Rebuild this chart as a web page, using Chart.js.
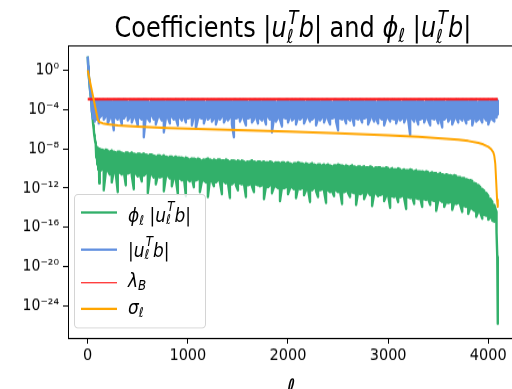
<!DOCTYPE html>
<html>
<head>
<meta charset="utf-8">
<script src="https://cdn.jsdelivr.net/npm/chart.js@4.4.1/dist/chart.umd.min.js"></script>
<style>
body { margin:0; width:512px; height:389px; overflow:hidden; background:#fff; font-family:'DejaVu Sans', sans-serif; }
#wrap { position:absolute; left:0; top:0; width:512px; height:335px; transform:scaleY(1.1612); transform-origin:0 0; }
#grafik { position:absolute; left:0; top:0; }
#title { position:absolute; left:93px; width:400px; top:10px; text-align:center; font-size:24px; line-height:28px; white-space:nowrap; color:#000; }
i { font-style:italic; }
.ss { position:relative; display:inline-block; width:0.5em; height:0; }
.ss .sup { position:absolute; left:0.1em; top:-1.5em; font-size:0.7em; line-height:1; }
.ss .sub { position:absolute; left:0; top:-0.55em; font-size:0.7em; line-height:1; }
.lo { font-size:0.7em; vertical-align:-0.25em; line-height:0; }
#lbox { position:absolute; left:74px; top:166.5px; width:132px; height:116px; box-sizing:border-box; border:1px solid #d4d4d4; border-radius:4px; background:rgba(255,255,255,0.8); }
.sw { position:absolute; left:80.7px; width:36.6px; height:1.8px; }
.lab { position:absolute; left:128px; font-size:17px; line-height:20px; white-space:nowrap; color:#000; }
#xl { position:absolute; left:276px; width:30px; top:321.5px; text-align:center; font-size:23px; line-height:27px; font-style:italic; }
</style>
</head>
<body>
<div id="wrap">
  <canvas id="grafik" width="512" height="335"></canvas>
  <div id="title">Coefficients |<i>u</i><span class="ss"><i class="sup">T</i><i class="sub">ℓ</i></span><i>b</i>| and <i>ϕ</i><i class="lo">ℓ</i> |<i>u</i><span class="ss"><i class="sup">T</i><i class="sub">ℓ</i></span><i>b</i>|</div>
  <div id="lbox"></div>
  <div class="sw" id="sw0" style="top:182.3px"></div>
  <div class="sw" id="sw1" style="top:213.9px"></div>
  <div class="sw" id="sw2" style="top:242.5px"></div>
  <div class="sw" id="sw3" style="top:265.2px"></div>
  <div class="lab" style="top:175px"><i>ϕ</i><i class="lo">ℓ</i> |<i>u</i><span class="ss"><i class="sup">T</i><i class="sub">ℓ</i></span><i>b</i>|</div>
  <div class="lab" style="top:205px">|<i>u</i><span class="ss"><i class="sup">T</i><i class="sub">ℓ</i></span><i>b</i>|</div>
  <div class="lab" style="top:231px"><i>λ</i><i class="lo">B</i></div>
  <div class="lab" style="top:254px"><i>σ</i><i class="lo">ℓ</i></div>
  <div id="xl">ℓ</div>
</div>
<script>
// warna garis
const warnaHijau = '#32b06a';
const warnaBiru = '#6391e0';
const warnaMerah = '#ff1a1a';
const warnaOranye = '#ffa500';

// indeks l: awal rapat, tengah tiap 20 (atas & bawah pita), ujung rapat
const ellAwal = [0,5,10,15,20,25,30,35,40,45,50,55,60,65,70,75,80,85,90,95,100,105,110,115];
const ellTengah = [];
for (let l = 120; l <= 4080; l += 20) ellTengah.push(l);
const ellAkhir = [4085, 4090, 4095];

// log10 phi_l |u_l^T b|
const hijauAwal = [1.4,0.3,-0.5,-1.1,-1.7,-2.2,-2.7,-3.2,-3.8,-4.5,-5.0,-5.6,-6.0,-6.6,-6.9,-7.3,-7.5,-8.9,-7.8,-9.6,-7.9,-10.1,-8.0,-11.5];
const hijauAtas = [
  -8.0,-8.1,-8.2,-8.1,-8.2,-8.3,-8.2,-8.3,-8.4,-8.3,-8.3,-8.4,-8.5,-8.4,-8.4,-8.5,-8.4,-8.5,-8.6,-8.5,
  -8.5,-8.6,-8.5,-8.6,-8.7,-8.6,-8.6,-8.7,-8.8,-8.7,-8.7,-8.8,-8.7,-8.8,-8.9,-8.8,-8.8,-8.9,-8.8,-8.9,
  -8.9,-8.9,-9.0,-8.9,-9.0,-9.1,-9.0,-9.0,-9.1,-9.0,-9.1,-9.2,-9.1,-9.1,-9.0,-9.1,-9.2,-9.1,-9.2,-9.1,
  -9.1,-9.2,-9.2,-9.1,-9.2,-9.3,-9.2,-9.2,-9.3,-9.2,-9.3,-9.2,-9.3,-9.4,-9.3,-9.3,-9.2,-9.3,-9.4,-9.3,
  -9.3,-9.4,-9.3,-9.4,-9.4,-9.3,-9.4,-9.5,-9.4,-9.4,-9.5,-9.4,-9.4,-9.5,-9.4,-9.5,-9.6,-9.5,-9.5,-9.4,
  -9.5,-9.5,-9.6,-9.5,-9.6,-9.6,-9.5,-9.6,-9.7,-9.6,-9.6,-9.7,-9.6,-9.7,-9.6,-9.7,-9.8,-9.7,-9.7,-9.6,
  -9.7,-9.7,-9.8,-9.7,-9.8,-9.8,-9.7,-9.8,-9.9,-9.8,-9.8,-9.9,-9.8,-9.9,-9.9,-9.8,-9.9,-10.0,-9.9,-9.9,
  -9.9,-10.0,-10.0,-9.9,-10.0,-10.1,-10.0,-10.1,-10.1,-10.0,-10.1,-10.2,-10.1,-10.2,-10.2,-10.1,-10.2,-10.3,-10.2,-10.3,
  -10.3,-10.3,-10.4,-10.3,-10.4,-10.5,-10.4,-10.5,-10.5,-10.6,-10.5,-10.6,-10.7,-10.6,-10.7,-10.7,-10.8,-10.7,-10.8,-10.9,
  -10.9,-11.0,-11.0,-11.1,-11.2,-11.2,-11.3,-11.5,-11.6,-11.7,-11.9,-12.1,-12.3,-12.5,-12.8,-13.1,-13.4,-13.7,-14.4
];
const hijauBawah = [
  -10.3,-10.1,-12.2,-10.4,-10.2,-10.6,-11.4,-10.3,-10.5,-12.4,-10.4,-10.6,-10.3,-11.7,-10.5,-10.4,-10.7,-12.1,-10.5,-10.8,
  -10.6,-11.3,-10.7,-10.5,-12.5,-10.8,-10.6,-10.9,-11.6,-10.7,-10.9,-10.8,-12.3,-10.9,-10.7,-11.0,-11.8,-10.9,-11.1,-12.6,
  -11.0,-11.2,-10.9,-12.8,-11.1,-11.3,-11.0,-11.9,-11.2,-11.1,-12.4,-11.3,-11.2,-11.4,-12.9,-11.2,-11.3,-11.8,-11.4,-11.2,
  -11.4,-12.6,-11.3,-11.5,-11.4,-13.0,-11.6,-11.4,-11.7,-12.2,-11.5,-11.6,-11.5,-12.9,-11.7,-11.6,-11.8,-12.4,-11.6,-11.7,
  -11.8,-11.7,-13.1,-11.8,-11.9,-11.7,-12.5,-11.9,-11.8,-12.0,-13.3,-11.9,-12.0,-11.9,-12.6,-12.0,-11.9,-12.1,-13.0,-12.0,
  -12.1,-12.0,-12.7,-12.2,-12.1,-13.4,-12.2,-12.0,-12.3,-12.9,-12.2,-12.1,-12.3,-13.5,-12.2,-12.4,-12.3,-12.8,-12.2,-12.4,
  -12.3,-13.6,-12.4,-12.3,-12.5,-12.9,-12.4,-12.5,-13.7,-12.4,-12.6,-12.5,-13.1,-12.6,-12.4,-12.7,-13.8,-12.6,-12.5,-12.8,
  -12.7,-12.6,-13.3,-12.8,-12.7,-14.0,-12.8,-12.9,-12.7,-13.4,-12.9,-12.8,-13.0,-14.1,-12.9,-13.0,-12.9,-13.6,-13.0,-13.1,
  -13.0,-13.9,-13.1,-13.2,-13.1,-13.7,-13.2,-13.3,-14.3,-13.3,-13.2,-13.4,-13.9,-13.4,-13.5,-13.4,-14.2,-13.5,-13.6,-13.5,
  -13.7,-14.4,-13.8,-13.9,-14.6,-14.0,-14.1,-14.3,-14.9,-14.4,-14.5,-15.1,-14.7,-14.8,-15.2,-15.0,-15.3,-15.4,-15.6
];
const hijauAkhir = [-16.5, -19.0, -25.8];

// log10 |u_l^T b|
const biruAwal = [1.4,0.4,-0.4,-1.0,-1.6,-2.1,-2.6,-3.0,-4.2,-3.1,-4.9,-3.0,-4.6,-3.1,-5.2,-3.0,-4.8,-3.1,-5.0,-3.0,-4.6,-3.1,-5.4,-3.0];
const biruAtas = [
  -3.0,-3.05,-3.0,-3.1,-3.0,-3.0,-3.2,-3.0,-3.05,-3.0,-3.0,-3.1,-3.0,-3.0,-3.25,-3.0,-3.05,-3.0,-3.1,-3.0,
  -3.0,-3.1,-3.0,-3.0,-3.05,-3.3,-3.0,-3.0,-3.1,-3.0,-3.05,-3.0,-3.0,-3.2,-3.0,-3.0,-3.05,-3.1,-3.0,-3.0,
  -3.05,-3.0,-3.0,-3.25,-3.0,-3.1,-3.0,-3.0,-3.05,-3.0,-3.1,-3.0,-3.0,-3.3,-3.0,-3.05,-3.0,-3.0,-3.1,-3.0,
  -3.0,-3.0,-3.1,-3.0,-3.05,-3.0,-3.2,-3.0,-3.0,-3.1,-3.0,-3.05,-3.0,-3.0,-3.25,-3.0,-3.1,-3.0,-3.0,-3.05,
  -3.0,-3.2,-3.0,-3.05,-3.0,-3.0,-3.1,-3.0,-3.3,-3.0,-3.0,-3.05,-3.1,-3.0,-3.0,-3.2,-3.0,-3.05,-3.0,-3.1,
  -3.0,-3.0,-3.05,-3.25,-3.0,-3.1,-3.0,-3.0,-3.05,-3.0,-3.2,-3.0,-3.1,-3.0,-3.0,-3.05,-3.3,-3.0,-3.0,-3.1,
  -3.05,-3.0,-3.0,-3.1,-3.0,-3.25,-3.0,-3.05,-3.0,-3.1,-3.0,-3.0,-3.2,-3.0,-3.05,-3.0,-3.1,-3.0,-3.3,-3.0,
  -3.0,-3.1,-3.0,-3.05,-3.0,-3.2,-3.0,-3.0,-3.1,-3.0,-3.05,-3.25,-3.0,-3.0,-3.1,-3.0,-3.05,-3.0,-3.2,-3.0,
  -3.0,-3.05,-3.3,-3.0,-3.1,-3.0,-3.0,-3.2,-3.0,-3.05,-3.0,-3.1,-3.0,-3.25,-3.0,-3.0,-3.05,-3.1,-3.0,-3.0,
  -3.1,-3.0,-3.05,-3.0,-3.2,-3.0,-3.0,-3.1,-3.0,-3.3,-3.0,-3.05,-3.0,-3.1,-3.0,-3.2,-3.0,-3.05,-3.0
];
const biruBawah = [
  -4.8,-4.6,-5.0,-4.7,-5.4,-4.9,-4.6,-6.1,-4.8,-5.0,-4.7,-5.5,-4.9,-4.6,-5.1,-4.8,-5.3,-4.7,-4.9,-5.6,
  -4.8,-5.0,-6.8,-4.7,-4.9,-5.2,-4.6,-5.0,-5.5,-4.8,-4.7,-5.1,-6.3,-4.9,-4.8,-5.4,-4.7,-5.0,-4.9,-5.6,
  -4.8,-5.1,-4.7,-5.3,-4.9,-4.8,-5.6,-4.7,-5.9,-5.0,-4.8,-4.9,-5.4,-4.7,-5.0,-4.8,-5.2,-4.9,-5.5,-4.8,
  -5.0,-4.7,-5.3,-4.9,-5.1,-4.8,-5.5,-6.8,-4.9,-4.8,-5.2,-4.7,-5.0,-5.6,-4.9,-4.8,-5.3,-5.0,-4.7,-5.4,
  -4.9,-5.1,-4.8,-5.5,-4.7,-5.0,-6.3,-4.9,-5.2,-4.8,-5.0,-5.7,-4.8,-4.9,-5.3,-4.7,-5.1,-4.9,-5.5,-4.8,
  -5.0,-4.8,-5.4,-4.9,-4.7,-5.2,-5.0,-4.8,-5.6,-4.9,-5.1,-4.8,-5.3,-4.7,-5.0,-5.5,-4.9,-4.8,-5.2,-6.1,
  -4.9,-5.0,-4.8,-5.4,-4.9,-5.1,-4.7,-5.6,-4.9,-5.0,-4.8,-5.3,-4.9,-4.8,-5.5,-5.0,-4.7,-5.2,-4.9,-5.4,
  -4.8,-5.0,-5.6,-4.9,-4.8,-5.2,-4.9,-5.0,-5.4,-4.8,-5.1,-4.9,-5.3,-4.8,-5.0,-6.6,-4.9,-5.2,-4.8,-5.5,
  -5.0,-4.9,-5.3,-4.8,-5.1,-5.6,-4.9,-5.0,-4.8,-5.4,-4.9,-5.8,-5.0,-4.8,-5.2,-4.9,-5.5,-5.0,-4.8,-5.3,
  -4.9,-5.1,-4.8,-5.4,-5.0,-4.9,-5.6,-4.8,-5.2,-5.0,-4.9,-5.3,-4.8,-5.1,-5.5,-4.9,-5.0,-5.2,-4.8
];
const biruAkhir = [-4.7, -3.1, -4.5];

// lambda_B konstan
const ellMerah = [0, 4095];
const merahLog = [-2.95, -2.95];

// sigma_l (mulus)
const ellOranye = [0,10,20,30,40,50,60,70,80,90,100,110,120,150,200,300,500,800,1000,1500,2000,2500,3000,3300,3500,3700,3800,3900,3950,4000,4030,4050,4060,4070,4080,4088,4095];
const oranyeLog = [0,-0.5,-1.0,-1.5,-2.0,-2.5,-3.0,-3.5,-4.0,-4.5,-5.0,-5.2,-5.3,-5.4,-5.5,-5.62,-5.75,-5.88,-5.95,-6.1,-6.25,-6.42,-6.62,-6.78,-6.92,-7.08,-7.2,-7.4,-7.55,-7.8,-8.05,-8.35,-8.7,-9.5,-11.5,-13.2,-13.9];

// sumbu
const xTicks = [0, 1000, 2000, 3000, 4000];
const yTickExp = [-24, -20, -16, -12, -8, -4, 0];
const xMin = -197, xMax = 4237;
const yMinExp = -27.26, yMaxExp = 2.54;

function titik(xs, logs) {
    return xs.map((x, i) => ({ x: x, y: Math.pow(10, logs[i]) }));
}

// pita berisik: tiap kolom garis tegak atas-bawah, bergantian arah
function pita(awal, atas, bawah, akhir) {
    const pts = titik(ellAwal, awal);
    ellTengah.forEach((l, i) => {
        const a = { x: l, y: Math.pow(10, atas[i]) };
        const b = { x: l, y: Math.pow(10, bawah[i]) };
        if (i % 2 === 0) pts.push(a, b); else pts.push(b, a);
    });
    return pts.concat(titik(ellAkhir, akhir));
}

const supMap = { '-': '\u207B', '0': '\u2070', '1': '\u00B9', '2': '\u00B2', '4': '\u2074', '6': '\u2076', '8': '\u2078' };
function pangkat(v) {
    const e = String(Math.round(Math.log10(v)));
    return '10' + e.split('').map(c => supMap[c]).join('');
}

document.getElementById('sw0').style.background = warnaHijau;
document.getElementById('sw1').style.background = warnaBiru;
document.getElementById('sw2').style.background = warnaMerah;
document.getElementById('sw3').style.background = warnaOranye;

// garis atas kotak plot
const bingkai = {
    id: 'bingkai',
    afterDatasetsDraw(chart) {
        const { ctx, chartArea: a } = chart;
        ctx.save();
        ctx.strokeStyle = '#000';
        ctx.lineWidth = 1;
        ctx.beginPath();
        ctx.moveTo(a.left, Math.round(a.top) + 0.5);
        ctx.lineTo(a.right, Math.round(a.top) + 0.5);
        ctx.stroke();
        ctx.restore();
    }
};

const garis = { pointRadius: 0, tension: 0, fill: false, borderJoinStyle: 'round' };

const ctx = document.getElementById('grafik').getContext('2d');
const chart = new Chart(ctx, {
    type: 'line',
    data: {
        datasets: [
            Object.assign({ label: 'phi', data: pita(hijauAwal, hijauAtas, hijauBawah, hijauAkhir), borderColor: warnaHijau, borderWidth: 2.4, order: 4 }, garis),
            Object.assign({ label: 'u', data: pita(biruAwal, biruAtas, biruBawah, biruAkhir), borderColor: warnaBiru, borderWidth: 2.4, order: 3 }, garis),
            Object.assign({ label: 'lambda', data: titik(ellMerah, merahLog), borderColor: warnaMerah, borderWidth: 2.2, order: 2 }, garis),
            Object.assign({ label: 'sigma', data: titik(ellOranye, oranyeLog), borderColor: warnaOranye, borderWidth: 2, order: 1 }, garis)
        ]
    },
    options: {
        responsive: false,
        animation: false,
        devicePixelRatio: 1,
        layout: { padding: { top: 39, left: 0, right: 0, bottom: 0 } },
        plugins: { legend: { display: false }, tooltip: { enabled: false }, title: { display: false } },
        scales: {
            x: {
                type: 'linear', min: xMin, max: xMax,
                afterBuildTicks: s => { s.ticks = xTicks.map(v => ({ value: v })); },
                afterFit: s => { s.height = 44; },
                grid: { display: true, drawOnChartArea: false, drawTicks: true, tickLength: 5, color: '#000' },
                border: { display: true, color: '#000', width: 1 },
                ticks: { color: '#000', padding: 2, maxRotation: 0, callback: v => String(v), font: { family: 'DejaVu Sans', size: 14.5 } }
            },
            y: {
                type: 'logarithmic', min: Math.pow(10, yMinExp), max: Math.pow(10, yMaxExp),
                afterBuildTicks: s => { s.ticks = yTickExp.map(e => ({ value: Math.pow(10, e) })); },
                afterFit: s => { s.width = 68; },
                grid: { display: true, drawOnChartArea: false, drawTicks: true, tickLength: 5, color: '#000' },
                border: { display: true, color: '#000', width: 1 },
                ticks: { color: '#000', padding: 4, callback: v => pangkat(v), font: { family: 'DejaVu Sans', size: 14 } }
            }
        }
    },
    plugins: [bingkai]
});
</script>
</body>
</html>
